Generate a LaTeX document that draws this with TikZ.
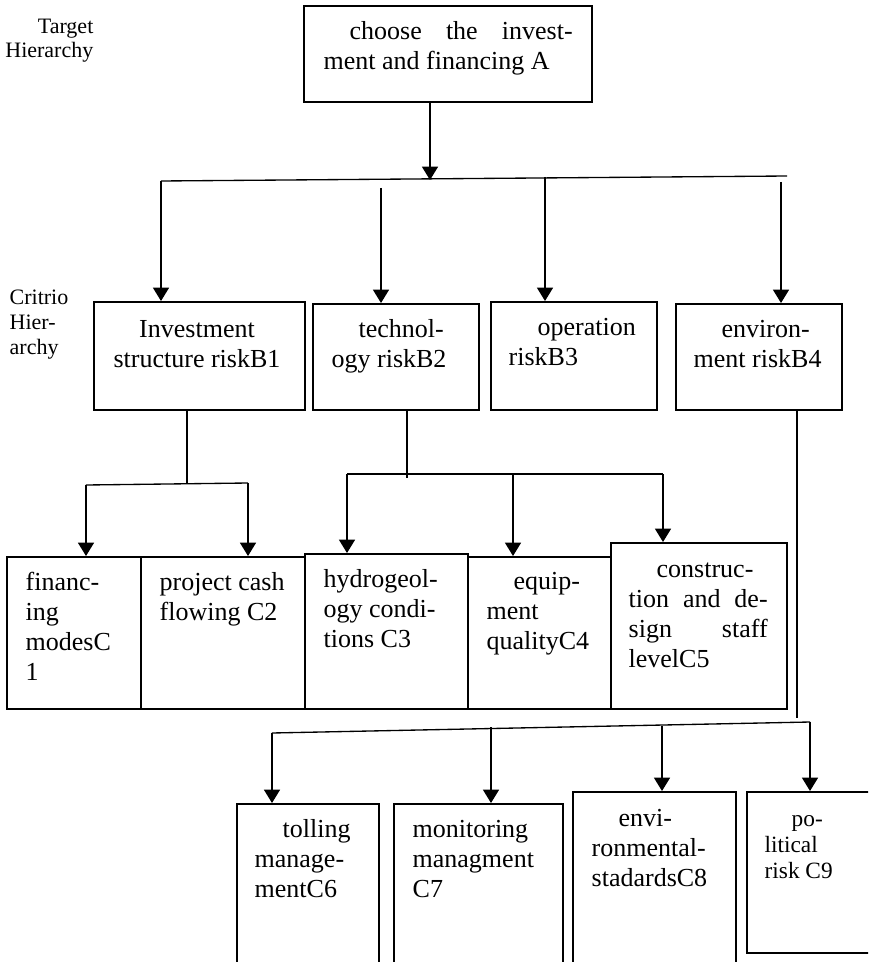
\documentclass[tikz,border=0pt]{standalone}
\usepackage{fontspec}
\setmainfont{Liberation Serif}
\usetikzlibrary{arrows.meta}

\tikzset{every picture/.style={line width=1pt}}
\tikzset{
  box/.style={draw, line width=1.3pt, inner sep=0pt, anchor=north west},
  txt/.style={inner sep=0pt, anchor=base west, align=left, font=\fontsize{19.5}{22.5}\selectfont},
  lbl/.style={inner sep=0pt, font=\fontsize{16.5}{18.5}\selectfont},
  arr/.style={-{Triangle[length=10pt,width=12pt]}},
}

\begin{document}
\begin{tikzpicture}[x=0.75pt,y=0.75pt,yscale=-1,xscale=1]
\useasboundingbox (0,0) rectangle (868,962);
\clip (0,0) rectangle (868,962);
% text nodes are placed by the baseline of their last line

%Shape: Rectangle
\node [box, minimum width=216pt, minimum height=72pt] (A) at (303,5) {};
%Shape: Rectangle
\node [box, minimum width=158.25pt, minimum height=81pt] (b1) at (93,301) {};
\node [box, minimum width=124.5pt, minimum height=79.5pt] (b2) at (312,303) {};
\node [box, minimum width=124.5pt, minimum height=81pt] (b3) at (490,301) {};
\node [box, minimum width=124.5pt, minimum height=79.5pt] (b4) at (675,303) {};
%Shape: Rectangle
\node [box, minimum width=100.5pt, minimum height=114pt] (c1) at (6,556) {};
\node [box, minimum width=123pt, minimum height=114pt] (c2) at (140,556) {};
\node [box, minimum width=122.25pt, minimum height=116.25pt] (c3) at (304,553) {};
\node [box, minimum width=107.25pt, minimum height=114pt] (c4) at (467,556) {};
\node [box, minimum width=132pt, minimum height=124.5pt] (c5) at (610,542) {};
%Shape: Rectangle
\node [box, minimum width=106.5pt, minimum height=140pt] (c6) at (236,803) {};
\node [box, minimum width=126.75pt, minimum height=140pt] (c7) at (393,803) {};
\node [box, minimum width=122.25pt, minimum height=150pt] (c8) at (572,791) {};
\node [box, minimum width=100.5pt, minimum height=120.75pt] (c9) at (746,791) {};

%Straight Lines
\coordinate (jA) at (430,180);
\draw [arr] (A.south -| jA) -- (jA);
\coordinate (busL) at (161,181);
\coordinate (busR) at (787,176);
\draw (busL) -- (busR);
\coordinate (s2) at (381,188);
\coordinate (s3) at (545,177);
\coordinate (s4) at (781,182);
\draw [arr] (busL) -- (b1.north -| busL);
\draw [arr] (s2) -- (b2.north -| s2);
\draw [arr] (s3) -- (b3.north -| s3);
\draw [arr] (s4) -- (b4.north -| s4);

%Straight Lines
\coordinate (k1) at (187,483);
\draw (b1.south -| k1) -- (k1);
\coordinate (m1L) at (86,485);
\coordinate (m1R) at (248,483);
\draw (m1L) -- (m1R);
\draw [arr] (m1L) -- (c1.north -| m1L);
\draw [arr] (m1R) -- (c2.north -| m1R);

%Straight Lines
\coordinate (k2) at (407,478);
\draw (b2.south -| k2) -- (k2);
\coordinate (m2L) at (347,474);
\coordinate (m2M) at (513,474);
\coordinate (m2R) at (663,474);
\draw (m2L) -- (m2R);
\draw [arr] (m2L) -- (c3.north -| m2L);
\draw [arr] (m2M) -- (c4.north -| m2M);
\draw [arr] (m2R) -- (c5.north -| m2R);

%Straight Lines
\coordinate (k4) at (797,718);
\draw (b4.south -| k4) -- (k4);
\coordinate (m4L) at (272,733);
\coordinate (m4R) at (810,722);
\coordinate (m4a) at (491,727);
\coordinate (m4b) at (662,726);
\draw (m4L) -- (m4R);
\draw [arr] (m4L) -- (c6.north -| m4L);
\draw [arr] (m4a) -- (c7.north -| m4a);
\draw [arr] (m4b) -- (c8.north -| m4b);
\draw [arr] (m4R) -- (c9.north -| m4R);

% Text Node
\node [lbl, anchor=base east, align=right] (tgt) at (94,58) {Target\\Hierarchy};
% Text Node
\node [lbl, anchor=base west, align=left] (crt) at (9,354) {Critrio\\Hier-\\archy};
% Text Node
\node [txt] (tA) at (323,70) {\hspace*{19.5pt}\makebox[167.25pt][s]{choose the invest-}\\ment and financing A};
% Text Node
\node [txt, anchor=base, align=center] (tb1) at (197,367) {Investment\\structure riskB1};
% Text Node
\node [txt] (tb2) at (331,367) {\hspace*{20.25pt}technol-\\ogy riskB2};
% Text Node
\node [txt] (tb3) at (508,365) {\hspace*{21.75pt}operation\\riskB3};
% Text Node
\node [txt] (tb4) at (693,367) {\hspace*{21pt}environ-\\ment riskB4};
% Text Node
\node [txt] (tc1) at (25,680) {financ-\\ing\\modesC\\1};
% Text Node
\node [txt] (tc2) at (159,620) {project cash\\flowing C2};
% Text Node
\node [txt] (tc3) at (323,647) {hydrogeol-\\ogy condi-\\tions C3};
% Text Node
\node [txt] (tc4) at (486,649) {\hspace*{20.25pt}equip-\\ment\\qualityC4};
% Text Node
\node [txt] (tc5) at (628,667) {\hspace*{21pt}construc-\\\makebox[104.25pt][s]{tion and de-}\\\makebox[104.25pt][s]{sign staff}\\levelC5};
% Text Node
\node [txt] (tc6) at (254,897) {\hspace*{21pt}tolling\\manage-\\mentC6};
% Text Node
\node [txt] (tc7) at (412,897) {monitoring\\managment\\C7};
% Text Node
\node [txt] (tc8) at (591,886) {\hspace*{20.25pt}envi-\\ronmental-\\stadardsC8};
% Text Node
\node [txt, font=\fontsize{17.5}{19.5}\selectfont] (tc9) at (764,878) {\hspace*{20.25pt}po-\\litical\\risk C9};

\end{tikzpicture}
\end{document}
